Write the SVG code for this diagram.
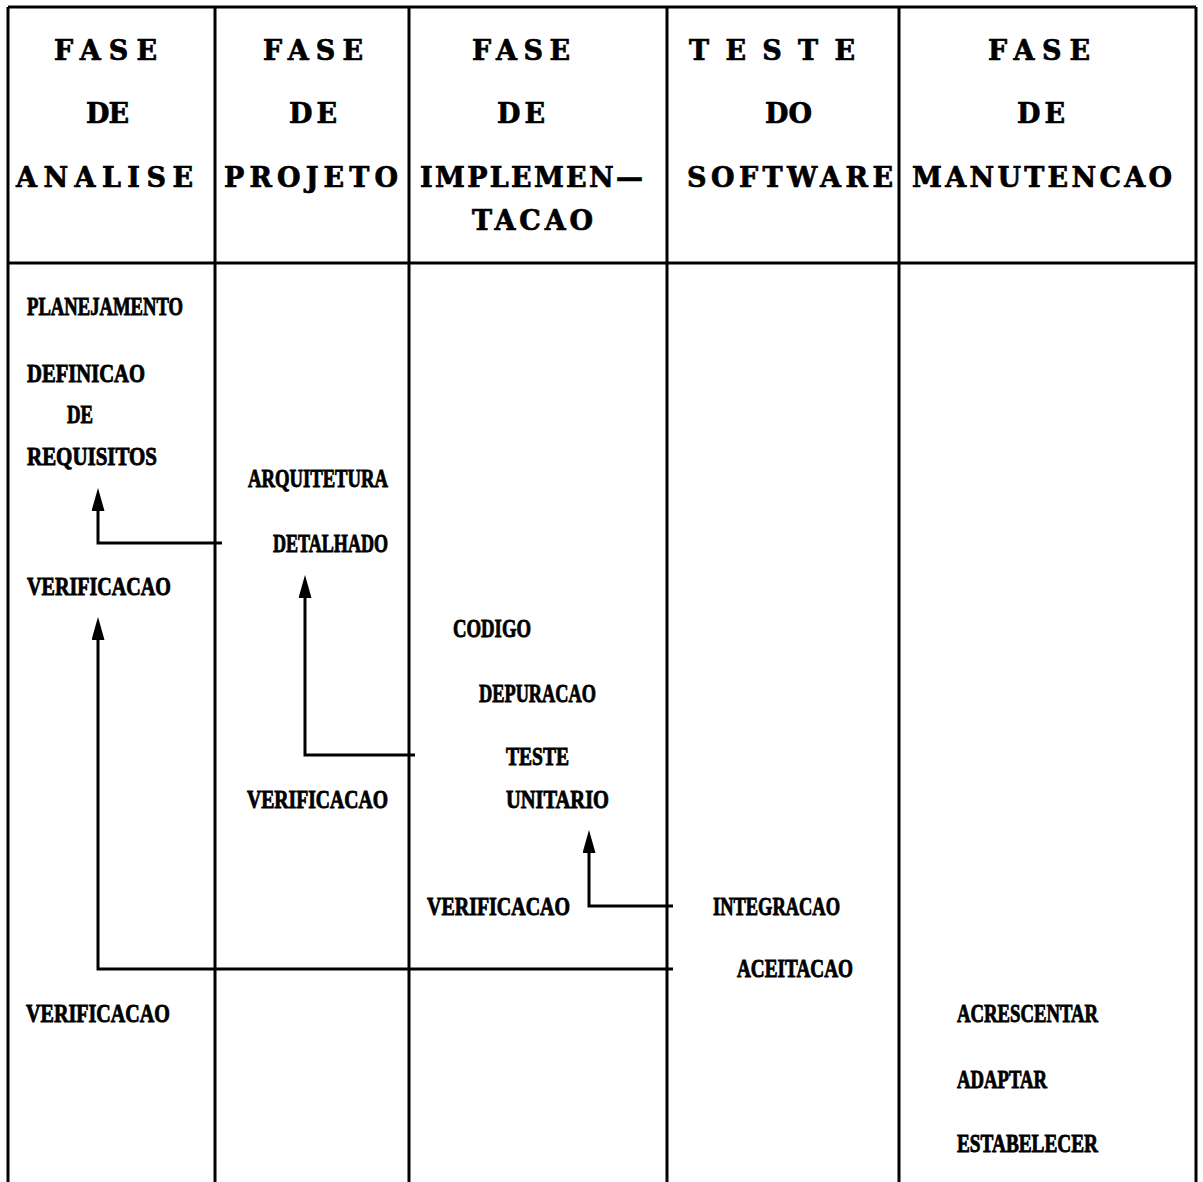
<svg xmlns="http://www.w3.org/2000/svg" width="1203" height="1182" viewBox="0 0 1203 1182">
  <style>
    .grid { stroke: #000; stroke-width: 3; fill: none; }
    .link { stroke: #000; stroke-width: 3; fill: none; marker-end: url(#arrow); }
    .head { font-family: "DejaVu Serif", "Liberation Serif", serif; font-weight: bold; font-size: 27px; fill: #000; stroke: #000; stroke-width: 0.7px; }
    .item { font-family: "Liberation Serif", "DejaVu Serif", serif; font-weight: bold; font-size: 26px; fill: #000; stroke: #000; stroke-width: 0.9px; }
  </style>
  <defs>
    <marker id="arrow" viewBox="0 0 23 13" refX="0" refY="6.5" markerWidth="23" markerHeight="13" markerUnits="userSpaceOnUse" orient="auto">
      <path d="M0,0 L23,6.5 L0,13 z" fill="#000"/>
    </marker>
  </defs>
  <rect width="1203" height="1182" fill="#fff"/>

  <!-- table frame and column rules -->
  <g id="table" class="grid">
    <line x1="8" y1="7" x2="1196" y2="7"/>
    <line x1="8" y1="263" x2="1196" y2="263"/>
    <line x1="8" y1="7" x2="8" y2="1182"/>
    <line x1="215" y1="7" x2="215" y2="1182"/>
    <line x1="409" y1="7" x2="409" y2="1182"/>
    <line x1="667" y1="7" x2="667" y2="1182"/>
    <line x1="899" y1="7" x2="899" y2="1182"/>
    <line x1="1196" y1="7" x2="1196" y2="1182"/>
  </g>

  <!-- column headings -->
  <g id="col-analise" class="head">
    <text x="54" y="60" textLength="103" lengthAdjust="spacing">FASE</text>
    <text x="86" y="123" textLength="43" lengthAdjust="spacing">DE</text>
    <text x="16" y="187" textLength="177" lengthAdjust="spacing">ANALISE</text>
  </g>
  <g id="col-projeto" class="head">
    <text x="263" y="60" textLength="100" lengthAdjust="spacing">FASE</text>
    <text x="289" y="123" textLength="48" lengthAdjust="spacing">DE</text>
    <text x="224" y="187" textLength="174" lengthAdjust="spacing">PROJETO</text>
  </g>
  <g id="col-implementacao" class="head">
    <text x="472" y="60" textLength="98" lengthAdjust="spacing">FASE</text>
    <text x="497" y="123" textLength="48" lengthAdjust="spacing">DE</text>
    <text x="420" y="187" textLength="223" lengthAdjust="spacing">IMPLEMEN—</text>
    <text x="472" y="230" textLength="121" lengthAdjust="spacing">TACAO</text>
  </g>
  <g id="col-teste" class="head">
    <text x="689" y="60" textLength="166" lengthAdjust="spacing">TESTE</text>
    <text x="765" y="123" textLength="47" lengthAdjust="spacing">DO</text>
    <text x="687" y="187" textLength="206" lengthAdjust="spacing">SOFTWARE</text>
  </g>
  <g id="col-manutencao" class="head">
    <text x="988" y="60" textLength="102" lengthAdjust="spacing">FASE</text>
    <text x="1017" y="123" textLength="48" lengthAdjust="spacing">DE</text>
    <text x="912" y="187" textLength="260" lengthAdjust="spacing">MANUTENCAO</text>
  </g>

  <!-- activities: analysis -->
  <g id="planejamento" class="item">
    <text x="27" y="315" textLength="156" lengthAdjust="spacingAndGlyphs">PLANEJAMENTO</text>
  </g>
  <g id="definicao-requisitos" class="item">
    <text x="27" y="382" textLength="118" lengthAdjust="spacingAndGlyphs">DEFINICAO</text>
    <text x="67" y="423" textLength="26" lengthAdjust="spacingAndGlyphs">DE</text>
    <text x="27" y="465" textLength="130" lengthAdjust="spacingAndGlyphs">REQUISITOS</text>
  </g>
  <g id="verificacao-analise-1" class="item">
    <text x="27" y="595" textLength="144" lengthAdjust="spacingAndGlyphs">VERIFICACAO</text>
  </g>
  <g id="verificacao-analise-2" class="item">
    <text x="26" y="1022" textLength="144" lengthAdjust="spacingAndGlyphs">VERIFICACAO</text>
  </g>

  <!-- activities: design -->
  <g id="arquitetura" class="item">
    <text x="248" y="487" textLength="140" lengthAdjust="spacingAndGlyphs">ARQUITETURA</text>
  </g>
  <g id="detalhado" class="item">
    <text x="273" y="552" textLength="115" lengthAdjust="spacingAndGlyphs">DETALHADO</text>
  </g>
  <g id="verificacao-projeto" class="item">
    <text x="247" y="808" textLength="141" lengthAdjust="spacingAndGlyphs">VERIFICACAO</text>
  </g>

  <!-- activities: implementation -->
  <g id="codigo" class="item">
    <text x="453" y="637" textLength="78" lengthAdjust="spacingAndGlyphs">CODIGO</text>
  </g>
  <g id="depuracao" class="item">
    <text x="479" y="702" textLength="117" lengthAdjust="spacingAndGlyphs">DEPURACAO</text>
  </g>
  <g id="teste-unitario" class="item">
    <text x="506" y="765" textLength="63" lengthAdjust="spacingAndGlyphs">TESTE</text>
    <text x="506" y="808" textLength="103" lengthAdjust="spacingAndGlyphs">UNITARIO</text>
  </g>
  <g id="verificacao-implementacao" class="item">
    <text x="427" y="915" textLength="143" lengthAdjust="spacingAndGlyphs">VERIFICACAO</text>
  </g>

  <!-- activities: testing -->
  <g id="integracao" class="item">
    <text x="713" y="915" textLength="127" lengthAdjust="spacingAndGlyphs">INTEGRACAO</text>
  </g>
  <g id="aceitacao" class="item">
    <text x="737" y="977" textLength="116" lengthAdjust="spacingAndGlyphs">ACEITACAO</text>
  </g>

  <!-- activities: maintenance -->
  <g id="acrescentar" class="item">
    <text x="957" y="1022" textLength="141" lengthAdjust="spacingAndGlyphs">ACRESCENTAR</text>
  </g>
  <g id="adaptar" class="item">
    <text x="957" y="1088" textLength="90" lengthAdjust="spacingAndGlyphs">ADAPTAR</text>
  </g>
  <g id="estabelecer" class="item">
    <text x="957" y="1152" textLength="141" lengthAdjust="spacingAndGlyphs">ESTABELECER</text>
  </g>

  <!-- feedback connectors -->
  <g id="connectors">
    <path class="link" d="M222,543 H98 V511"/>
    <path class="link" d="M415,755 H305 V598"/>
    <path class="link" d="M673,969 H98 V640"/>
    <path class="link" d="M673,906 H589 V853"/>
  </g>
</svg>
